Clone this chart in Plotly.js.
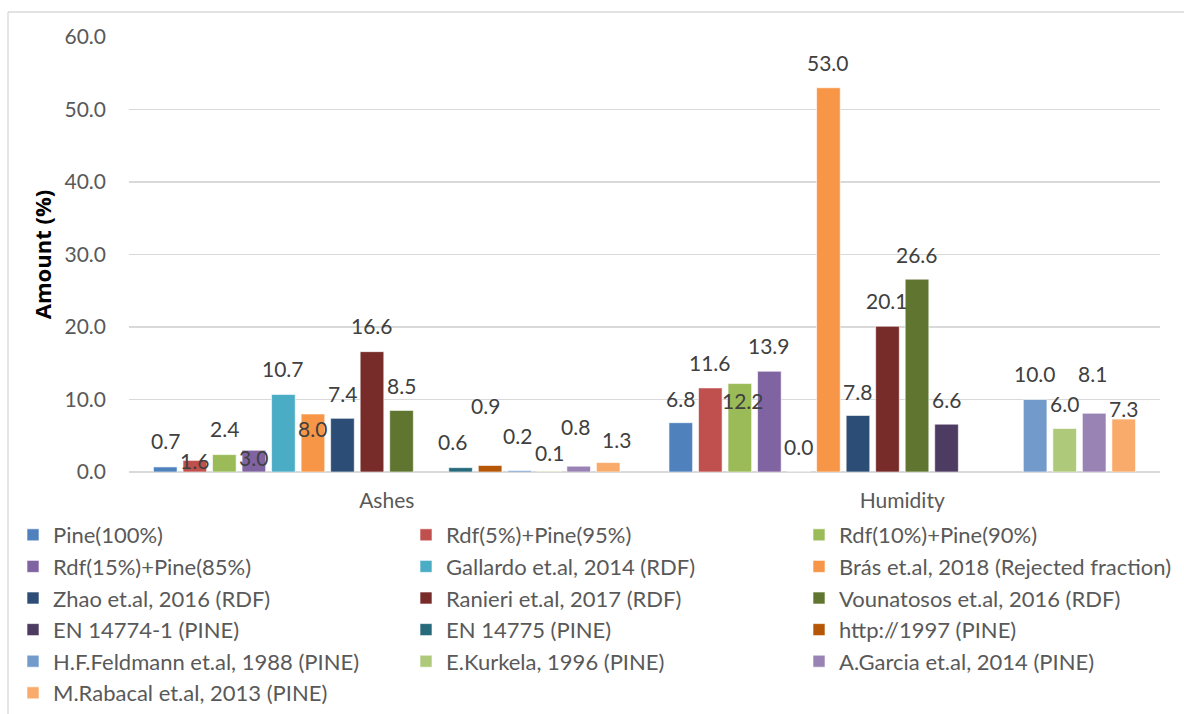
<!DOCTYPE html>
<html>
<head>
<meta charset="utf-8">
<script src="https://cdn.plot.ly/plotly-3.0.1.min.js"></script>
<style>
  html, body { margin: 0; padding: 0; background: #ffffff; }
  #chart { width: 1184px; height: 714px; }
</style>
</head>
<body>
<div id="chart"></div>
<script>
// Categories on the x axis
const categories = ['Ashes', 'Humidity'];

// Series names, in legend reading order (row by row, three per row)
const seriesNames = [
  'Pine(100%)',
  'Rdf(5%)+Pine(95%)',
  'Rdf(10%)+Pine(90%)',
  'Rdf(15%)+Pine(85%)',
  'Gallardo et.al, 2014 (RDF)',
  'Brás et.al, 2018 (Rejected fraction)',
  'Zhao et.al, 2016 (RDF)',
  'Ranieri et.al, 2017 (RDF)',
  'Vounatosos et.al, 2016 (RDF)',
  'EN 14774-1 (PINE)',
  'EN 14775 (PINE)',
  'http://1997 (PINE)',
  'H.F.Feldmann et.al, 1988 (PINE)',
  'E.Kurkela, 1996 (PINE)',
  'A.Garcia et.al, 2014 (PINE)',
  'M.Rabacal et.al, 2013 (PINE)'
];

// Values per series for [Ashes, Humidity] (null = not reported)
const ashesValues    = [0.7, 1.6, 2.4, 3.0, 10.7, 8.0, 7.4, 16.6, 8.5, null, 0.6, 0.9, 0.2, 0.1, 0.8, 1.3];
const humidityValues = [6.8, 11.6, 12.2, 13.9, 0.0, 53.0, 7.8, 20.1, 26.6, 6.6, null, null, 10.0, 6.0, 8.1, 7.3];

// Y axis ticks
const yTickValues = [0, 10, 20, 30, 40, 50, 60];
const yTickLabels = ['0.0', '10.0', '20.0', '30.0', '40.0', '50.0', '60.0'];

// Series colours
const seriesColors = [
  '#4F81BD', '#C0504D', '#9BBB59', '#8064A2', '#4BACC6', '#F79646',
  '#2C4D75', '#772C2A', '#5F7530', '#4D3B62', '#276A7C', '#B65708',
  '#729ACA', '#AFC97A', '#9983B5', '#F9AB6B'
];

// Value label placement: lift above the bar top (px) and sideways nudge (px)
const ashesLabelLift    = [26, 0, 26, -7, 26, -14, 25, 26, 25, 25, 26, 60, 35, 19, 40, 23];
const ashesLabelNudge   = [0, 0, 0, 0, 0, 0, 0, 0, 0, 0, -8, -5, -2, 0, -3, 8];
const humidityLabelLift = [24, 25, -17, 26, 26, 25, 24, 26, 25, 25, 25, 25, 26, 25, 40, 11];
const humidityLabelNudge= [0, 0, 3, 0, 0, 0, 0, 0, 0, 0, 0, 0, 0, 0, -2, 0];

// Page / plot geometry (px)
const W = 1184, H = 714;
const M = { l: 129, r: 24, t: 37, b: 242, autoexpand: false };
const plotW = W - M.l - M.r, plotH = H - M.t - M.b;
const px2paperX = px => (px - M.l) / plotW;
const px2paperY = py => (H - M.b - py) / plotH;

const FONT = 'Lato, "Liberation Sans", Arial, sans-serif';
const TITLE_FONT = '"Open Sans", "Noto Sans", Arial, sans-serif';
const BARGAP = 0.0835;
const LEGEND_COLS = 3;
const legendColX = [13, 406, 799];
const legendTop = 514;

const legendIds = ['legend', 'legend2', 'legend3'];

const traces = seriesNames.map((name, i) => ({
  type: 'bar',
  name: name,
  x: categories,
  y: [ashesValues[i], humidityValues[i]],
  legend: legendIds[i % LEGEND_COLS],
  marker: { color: seriesColors[i], line: { color: 'rgba(255,255,255,0.6)', width: 1 } },
  hoverinfo: 'name+y'
}));

// Data labels as annotations anchored to each bar's value
const annotations = [];
const slotW = (1 - BARGAP) / seriesNames.length;
const valueSets = [ashesValues, humidityValues];
const liftSets = [ashesLabelLift, humidityLabelLift];
const nudgeSets = [ashesLabelNudge, humidityLabelNudge];
valueSets.forEach((vals, c) => {
  vals.forEach((v, i) => {
    if (v === null) return;
    annotations.push({
      xref: 'x', yref: 'y',
      x: c + (i - (seriesNames.length - 1) / 2) * slotW,
      y: v,
      text: v.toFixed(1),
      showarrow: false,
      xanchor: 'center', yanchor: 'middle',
      yshift: liftSets[c][i],
      xshift: nudgeSets[c][i],
      font: { family: FONT, size: 21, color: '#404040' }
    });
  });
});

const legendStyle = colX => ({
  orientation: 'v',
  x: px2paperX(colX), xanchor: 'left',
  y: px2paperY(legendTop), yanchor: 'top',
  itemwidth: 30,
  traceorder: 'normal',
  font: { family: FONT, size: 22, color: '#595959' },
  bgcolor: 'rgba(0,0,0,0)'
});

const layout = {
  width: W, height: H,
  margin: M,
  paper_bgcolor: '#ffffff',
  plot_bgcolor: '#ffffff',
  barmode: 'group',
  bargap: BARGAP,
  bargroupgap: 0.2,
  font: { family: FONT, size: 21, color: '#595959' },
  showlegend: true,
  legend: legendStyle(legendColX[0]),
  legend2: legendStyle(legendColX[1]),
  legend3: legendStyle(legendColX[2]),
  xaxis: {
    type: 'category',
    showgrid: false,
    showline: false,
    zeroline: false,
    ticks: '',
    tickfont: { family: FONT, size: 21, color: '#595959' },
    ticklabelstandoff: 14
  },
  yaxis: {
    range: [0, 60],
    tickvals: yTickValues,
    ticktext: yTickLabels,
    showgrid: true,
    gridcolor: '#d9d9d9',
    gridwidth: 1.3,
    zeroline: true,
    zerolinecolor: '#d9d9d9',
    zerolinewidth: 1.3,
    showline: false,
    ticks: '',
    ticklabelstandoff: 22,
    tickfont: { family: FONT, size: 21, color: '#595959' },
    title: {
      text: '<b>Amount (%)</b>',
      font: { family: TITLE_FONT, size: 22, color: '#000000' },
      standoff: 6
    }
  },
  annotations: annotations,
  shapes: [
    { type: 'line', xref: 'paper', yref: 'paper',
      x0: px2paperX(8), x1: px2paperX(W), y0: px2paperY(12), y1: px2paperY(12),
      line: { color: '#d9d9d9', width: 1.3 } },
    { type: 'line', xref: 'paper', yref: 'paper',
      x0: px2paperX(8), x1: px2paperX(8), y0: px2paperY(12), y1: px2paperY(H),
      line: { color: '#d9d9d9', width: 1.3 } }
  ]
};

Plotly.newPlot('chart', traces, layout, { displayModeBar: false, staticPlot: true });
</script>
</body>
</html>
